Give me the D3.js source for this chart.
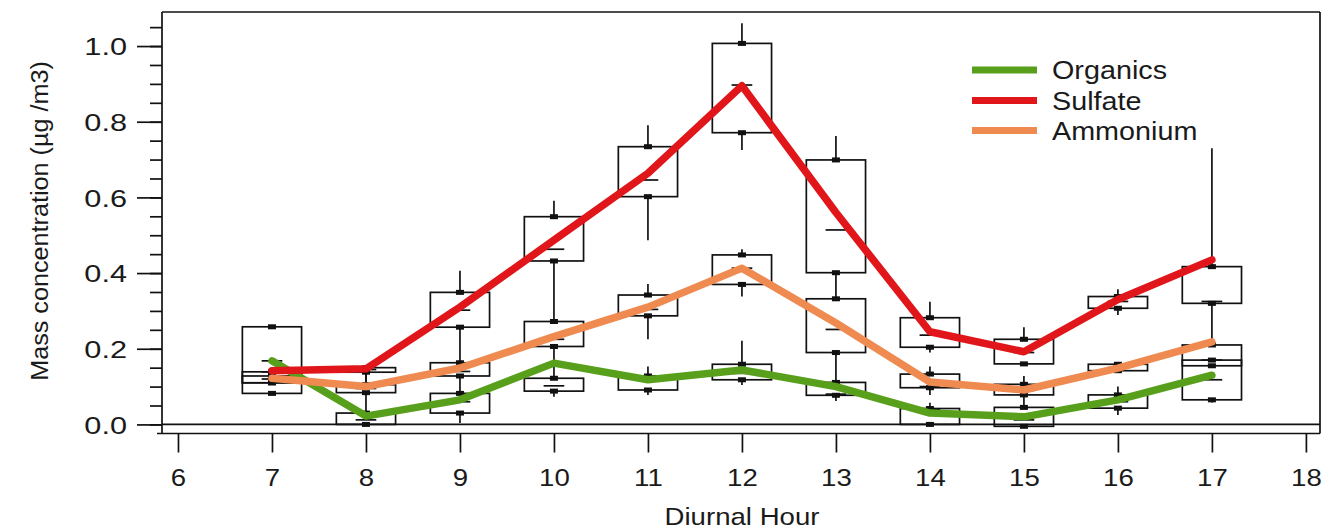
<!DOCTYPE html>
<html>
<head>
<meta charset="utf-8">
<script src="https://cdn.jsdelivr.net/npm/d3@7"></script>
<style>
  html, body { margin: 0; padding: 0; background: #fff; }
  svg { display: block; }
  text { font-family: "Liberation Sans", Arial, sans-serif; fill: #1a1a1a; }
</style>
</head>
<body>
<svg id="chart" width="1336" height="529"></svg>
<script>
// ---- data ----
const hours = [7, 8, 9, 10, 11, 12, 13, 14, 15, 16, 17];
const seriesNames = ["Organics", "Sulfate", "Ammonium"];
const seriesColors = ["#58a01c", "#e0161b", "#ef8a50"];

const organicsMean = [0.168, 0.022, 0.065, 0.162, 0.118, 0.144, 0.100, 0.030, 0.020, 0.065, 0.130];
const sulfateMean  = [0.142, 0.147, 0.310, 0.487, 0.664, 0.895, 0.560, 0.245, 0.192, 0.330, 0.435];
const ammoniumMean = [0.122, 0.100, 0.149, 0.232, 0.310, 0.413, 0.268, 0.112, 0.091, 0.149, 0.218];

// box stats per hour: [whisker low, q1, median, q3, whisker high]
const sulfateBoxes = [
  [0.082, 0.082, 0.139, 0.258, 0.258],
  [0.105, 0.138, 0.145, 0.150, 0.150],
  [0.166, 0.257, 0.302, 0.349, 0.406],
  [0.272, 0.432, 0.463, 0.549, 0.591],
  [0.487, 0.602, 0.646, 0.734, 0.791],
  [0.725, 0.771, 0.897, 1.007, 1.060],
  [0.332, 0.401, 0.514, 0.699, 0.762],
  [0.190, 0.204, 0.236, 0.282, 0.324],
  [0.160, 0.160, 0.190, 0.225, 0.257],
  [0.289, 0.307, 0.325, 0.338, 0.357],
  [0.210, 0.320, 0.325, 0.417, 0.730]
];
const ammoniumBoxes = [
  [0.110, 0.110, 0.120, 0.128, 0.128],
  [0.030, 0.084, 0.095, 0.105, 0.136],
  [0.083, 0.128, 0.140, 0.163, 0.163],
  [0.122, 0.206, 0.225, 0.272, 0.272],
  [0.225, 0.287, 0.304, 0.342, 0.371],
  [0.338, 0.370, 0.413, 0.448, 0.463],
  [0.112, 0.190, 0.251, 0.332, 0.332],
  [0.078, 0.097, 0.100, 0.133, 0.153],
  [0.050, 0.078, 0.090, 0.106, 0.128],
  [0.140, 0.142, 0.150, 0.159, 0.165],
  [0.155, 0.155, 0.170, 0.210, 0.210]
];
const organicsBoxes = [
  [0.110, 0.110, 0.168, 0.139, 0.139],
  [0.000, 0.000, 0.012, 0.030, 0.030],
  [0.004, 0.030, 0.060, 0.082, 0.082],
  [0.073, 0.088, 0.102, 0.122, 0.122],
  [0.078, 0.091, 0.120, 0.128, 0.153],
  [0.104, 0.118, 0.135, 0.159, 0.221],
  [0.062, 0.077, 0.080, 0.111, 0.111],
  [0.000, 0.000, 0.040, 0.042, 0.057],
  [-0.005, -0.005, 0.012, 0.045, 0.045],
  [0.025, 0.043, 0.060, 0.078, 0.100],
  [0.058, 0.065, 0.118, 0.170, 0.170]
];

const xTicks = d3.range(6, 19, 1);
const yMajor = [0, 0.2, 0.4, 0.6, 0.8, 1.0];
const yMinor = d3.range(0, 1.0751, 0.05);

const xTitle = "Diurnal Hour";
const yTitle = "Mass concentration (µg /m3)";

// ---- layout ----
const svg = d3.select("#chart");
const pL = 162, pR = 1320, pT = 12, pB = 433.5;
const x = d3.scaleLinear().domain([5.83, 18.15]).range([pL, pR]);
const y = d3.scaleLinear().domain([-0.024, 1.09]).range([pB, pT]);
const boxHalf = 0.315; // hours
const medHalf = 0.11;
const ink = "#111";
const textStretch = 1.15;

// boxes
const allBoxes = [organicsBoxes, ammoniumBoxes, sulfateBoxes];
const gBox = svg.append("g");
allBoxes.forEach(boxes => {
  boxes.forEach((b, i) => {
    const h = hours[i];
    const [lo, q1, med, q3, hi] = b;
    const cx = x(h);
    gBox.append("rect")
      .attr("x", x(h - boxHalf)).attr("y", y(q3))
      .attr("width", x(h + boxHalf) - x(h - boxHalf))
      .attr("height", Math.max(0.5, y(q1) - y(q3)))
      .attr("fill", "none").attr("stroke", ink).attr("stroke-width", 1.7);
    gBox.append("line").attr("x1", cx).attr("x2", cx).attr("y1", y(q3)).attr("y2", y(hi))
      .attr("stroke", ink).attr("stroke-width", 1.7);
    gBox.append("line").attr("x1", cx).attr("x2", cx).attr("y1", y(q1)).attr("y2", y(lo))
      .attr("stroke", ink).attr("stroke-width", 1.7);
    gBox.append("line").attr("x1", x(h - medHalf)).attr("x2", x(h + medHalf))
      .attr("y1", y(med)).attr("y2", y(med))
      .attr("stroke", ink).attr("stroke-width", 1.7);
    [q1, q3].forEach(v => {
      gBox.append("rect").attr("x", cx - 4).attr("y", y(v) - 2.5)
        .attr("width", 8).attr("height", 5).attr("fill", ink);
    });
  });
});

// mean lines
const means = [organicsMean, sulfateMean, ammoniumMean];
const lineGen = d3.line().x((d, i) => x(hours[i])).y(d => y(d));
means.forEach((m, k) => {
  svg.append("path").datum(m)
    .attr("d", lineGen)
    .attr("fill", "none")
    .attr("stroke", seriesColors[k])
    .attr("stroke-width", 7.5)
    .attr("stroke-linejoin", "round")
    .attr("stroke-linecap", "round");
});

// frame
svg.append("line").attr("x1", pL).attr("x2", pR).attr("y1", pT).attr("y2", pT).attr("stroke", ink).attr("stroke-width", 1.7);
svg.append("line").attr("x1", pR).attr("x2", pR).attr("y1", pT).attr("y2", pB).attr("stroke", ink).attr("stroke-width", 1.7);
svg.append("line").attr("x1", pL).attr("x2", pL).attr("y1", pT).attr("y2", pB).attr("stroke", ink).attr("stroke-width", 1.7);
svg.append("line").attr("x1", pL - 5).attr("x2", pR).attr("y1", pB).attr("y2", pB).attr("stroke", ink).attr("stroke-width", 1.7);
// zero line
svg.append("line").attr("x1", pL).attr("x2", pR).attr("y1", y(0)).attr("y2", y(0)).attr("stroke", ink).attr("stroke-width", 1.7);

// y axis
const yAxisMinor = d3.axisLeft(y).tickValues(yMinor).tickSize(12).tickFormat("");
const yAxisMajor = d3.axisLeft(y).tickValues(yMajor).tickSize(25).tickPadding(10).tickFormat(d3.format(".1f"));
const gyMin = svg.append("g").attr("transform", `translate(${pL},0)`).call(yAxisMinor);
const gyMaj = svg.append("g").attr("transform", `translate(${pL},0)`).call(yAxisMajor);
[gyMin, gyMaj].forEach(g => {
  g.select(".domain").remove();
  g.selectAll(".tick line").attr("stroke", ink).attr("stroke-width", 1.7);
});
gyMaj.selectAll(".tick text")
  .attr("font-size", 24)
  .attr("fill", "#1a1a1a")
  .attr("font-family", "Liberation Sans, Arial, sans-serif")
  .attr("dy", "0.36em")
  .each(function() {
    const t = d3.select(this);
    const xx = +t.attr("x");
    t.attr("x", null).attr("transform", `translate(${xx},0) scale(1.28,1)`);
  });

// x axis
const xAxis = d3.axisBottom(x).tickValues(xTicks).tickSize(19).tickPadding(12).tickFormat(d3.format("d"));
const gx = svg.append("g").attr("transform", `translate(0,${pB})`).call(xAxis);
gx.select(".domain").remove();
gx.selectAll(".tick line").attr("stroke", ink).attr("stroke-width", 1.7);
gx.selectAll(".tick text")
  .attr("font-size", 24)
  .attr("fill", "#1a1a1a")
  .attr("font-family", "Liberation Sans, Arial, sans-serif")
  .attr("dy", null)
  .attr("y", null)
  .attr("transform", `translate(0,52) scale(${textStretch},1)`);

// axis titles
svg.append("text")
  .attr("transform", `translate(742,525) scale(${textStretch},1)`)
  .attr("text-anchor", "middle")
  .attr("font-size", 24)
  .text(xTitle);
svg.append("text")
  .attr("transform", `translate(48,221) rotate(-90) scale(1.05,1)`)
  .attr("text-anchor", "middle")
  .attr("font-size", 24)
  .text(yTitle);

// legend
const legendY = [70, 100.5, 130.5];
seriesNames.forEach((name, k) => {
  svg.append("line")
    .attr("x1", 972).attr("x2", 1037)
    .attr("y1", legendY[k]).attr("y2", legendY[k])
    .attr("stroke", seriesColors[k]).attr("stroke-width", 7);
  svg.append("text")
    .attr("transform", `translate(1052,${legendY[k] + 9}) scale(${textStretch},1)`)
    .attr("font-size", 25)
    .text(name);
});
</script>
</body>
</html>
